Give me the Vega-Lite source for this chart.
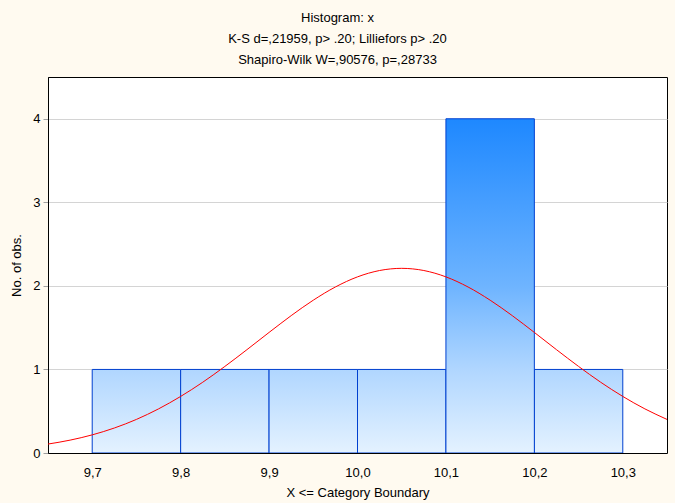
{
  "$schema": "https://vega.github.io/schema/vega-lite/v6.json",
  "autosize": {"type": "none"},
  "width": 619,
  "height": 376,
  "padding": {"left": 48, "top": 77, "right": 8, "bottom": 50},
  "background": "#FFFAF0",
  "title": {
    "text": ["Histogram: x", "K-S d=,21959, p> .20; Lilliefors p> .20", "Shapiro-Wilk W=,90576, p=,28733"],
    "font": "Liberation Sans",
    "fontSize": 13,
    "fontWeight": "normal",
    "lineHeight": 21,
    "color": "black",
    "anchor": "middle",
    "dx": -20,
    "offset": 10
  },
  "datasets": {
    "bins": [
      {"start": 9.7, "end": 9.8, "count": 1},
      {"start": 9.8, "end": 9.9, "count": 1},
      {"start": 9.9, "end": 10.0, "count": 1},
      {"start": 10.0, "end": 10.1, "count": 1},
      {"start": 10.1, "end": 10.2, "count": 4},
      {"start": 10.2, "end": 10.3, "count": 1}
    ],
    "curve": [
      {"x": 9.65, "y": 0.107}, {"x": 9.675, "y": 0.154}, {"x": 9.7, "y": 0.217}, {"x": 9.725, "y": 0.299},
      {"x": 9.75, "y": 0.402}, {"x": 9.775, "y": 0.528}, {"x": 9.8, "y": 0.677}, {"x": 9.825, "y": 0.847},
      {"x": 9.85, "y": 1.036}, {"x": 9.875, "y": 1.237}, {"x": 9.9, "y": 1.443}, {"x": 9.925, "y": 1.644},
      {"x": 9.95, "y": 1.829}, {"x": 9.975, "y": 1.987}, {"x": 10.0, "y": 2.108}, {"x": 10.025, "y": 2.184},
      {"x": 10.05, "y": 2.21}, {"x": 10.075, "y": 2.184}, {"x": 10.1, "y": 2.108}, {"x": 10.125, "y": 1.987},
      {"x": 10.15, "y": 1.829}, {"x": 10.175, "y": 1.644}, {"x": 10.2, "y": 1.443}, {"x": 10.225, "y": 1.237},
      {"x": 10.25, "y": 1.036}, {"x": 10.275, "y": 0.847}, {"x": 10.3, "y": 0.677}, {"x": 10.325, "y": 0.528},
      {"x": 10.35, "y": 0.402}
    ]
  },
  "layer": [
    {
      "data": {"name": "bins"},
      "transform": [{"filter": "datum.count < 2"}],
      "mark": {
        "type": "bar",
        "stroke": "#0040D0",
        "strokeWidth": 1,
        "fill": {"gradient": "linear", "x1": 0, "y1": 0, "x2": 0, "y2": 1,
          "stops": [{"offset": 0, "color": "#B0D6FF"}, {"offset": 1, "color": "#E4F2FF"}]}
      },
      "encoding": {
        "x": {"field": "start", "type": "quantitative",
          "scale": {"domain": [9.65, 10.35], "nice": false, "zero": false},
          "axis": {"orient": "bottom", "values": [9.7, 9.8, 9.9, 10.0, 10.1, 10.2, 10.3],
            "labelExpr": "replace(format(datum.value, '.1f'), '.', ',')",
            "title": "X <= Category Boundary", "grid": false, "ticks": false,
            "domainColor": "black", "zindex": 1, "labelPadding": 13, "titlePadding": 7}},
        "x2": {"field": "end"},
        "y": {"field": "count", "type": "quantitative",
          "scale": {"domain": [0, 4.5], "nice": false},
          "axis": {"values": [0, 1, 2, 3, 4], "format": "d", "title": "No. of obs.", "grid": true,
            "gridColor": "#D4D4D4", "tickSize": 5, "tickColor": "#A0A0A0", "labelPadding": 3,
            "domainColor": "black", "titlePadding": 9}},
        "y2": {"datum": 0}
      }
    },
    {
      "data": {"name": "bins"},
      "transform": [{"filter": "datum.count >= 2"}],
      "mark": {
        "type": "bar",
        "stroke": "#0040D0",
        "strokeWidth": 1,
        "fill": {"gradient": "linear", "x1": 0, "y1": 0, "x2": 0, "y2": 1,
          "stops": [{"offset": 0, "color": "#1E88FF"}, {"offset": 0.5, "color": "#6EB4FF"},
            {"offset": 0.75, "color": "#B0D6FF"}, {"offset": 1, "color": "#E4F2FF"}]}
      },
      "encoding": {
        "x": {"field": "start", "type": "quantitative"},
        "x2": {"field": "end"},
        "y": {"field": "count", "type": "quantitative"},
        "y2": {"datum": 0}
      }
    },
    {
      "data": {"name": "curve"},
      "mark": {"type": "line", "color": "#FF0000", "strokeWidth": 1, "interpolate": "monotone", "clip": true},
      "encoding": {
        "x": {"field": "x", "type": "quantitative"},
        "y": {"field": "y", "type": "quantitative"}
      }
    }
  ],
  "config": {
    "view": {"stroke": "black", "strokeWidth": 1, "fill": "white"},
    "axis": {
      "labelFont": "Liberation Sans", "labelFontSize": 13, "labelColor": "black",
      "titleFont": "Liberation Sans", "titleFontSize": 13, "titleFontWeight": "normal", "titleColor": "black"
    }
  }
}
